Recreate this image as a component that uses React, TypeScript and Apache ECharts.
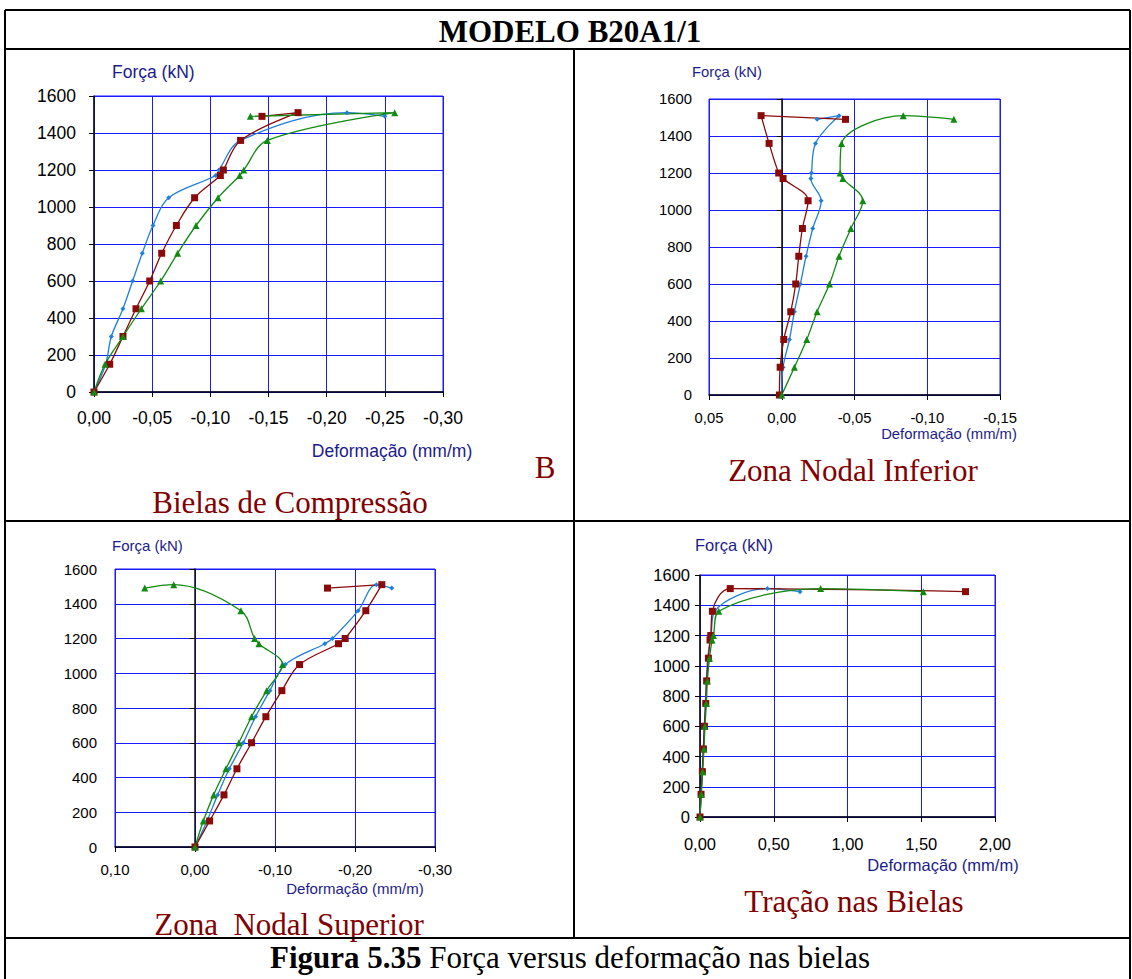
import React, { useEffect, useRef } from "react";
import * as echarts from "echarts";

// ---------- DATA ----------
const forceLevels = [0, 150, 300, 450, 600, 750, 900, 1050, 1170, 1200, 1360, 1510, 1490];
const seriesNames = ["Série 1", "Série 2", "Série 3"];

// Bielas de Compressão (deformação, mm/m)
const bielasBlue = [0, -0.010, -0.0149, -0.0249, -0.0332, -0.0415, -0.0507, -0.0642, -0.1046, -0.1074, -0.126, -0.2175, -0.250];
const bielasRed = [0, -0.0135, -0.0249, -0.0361, -0.0479, -0.0582, -0.0708, -0.0865, -0.1086, -0.1112, -0.126, -0.1754, -0.1444];
const bielasGreen = [0, -0.0095, -0.0249, -0.0407, -0.0573, -0.0719, -0.0877, -0.1066, -0.1252, -0.1287, -0.149, -0.2585, -0.1344];

// Zona Nodal Inferior
const inferiorRed = [0.0016, 0.0011, -0.0014, -0.0062, -0.0096, -0.0117, -0.0142, -0.0181, -0.0009, 0.0021, 0.0087, 0.0142, -0.0438];
const inferiorBlue = [0, -0.0009, -0.0053, -0.0087, -0.0128, -0.0167, -0.0213, -0.0271, -0.020, -0.0204, -0.0232, -0.0394, -0.0243];
const inferiorGreen = [0, -0.0087, -0.0172, -0.0243, -0.0328, -0.0394, -0.0475, -0.0557, -0.042, -0.0401, -0.0411, -0.0835, -0.1183];

// Zona Nodal Superior
const superiorRed = [0, -0.0183, -0.0362, -0.0524, -0.0707, -0.0886, -0.1086, -0.1307, -0.1794, -0.1877, -0.2135, -0.2335, -0.1656];
const superiorBlue = [0, -0.015, -0.0283, -0.0429, -0.0603, -0.0757, -0.0936, -0.1128, -0.1623, -0.1719, -0.2039, -0.2268, -0.2459];
const superiorGreen = [0, -0.0104, -0.0233, -0.0387, -0.0549, -0.0707, -0.0895, -0.1094, -0.0799, -0.0745, -0.0574, 0.0266, 0.0628];

// Tração nas Bielas
const tracaoBlue = [0, 0.007, 0.015, 0.022, 0.029, 0.036, 0.043, 0.052, 0.070, 0.075, 0.100, 0.457, 0.678];
const tracaoRed = [0, 0.007, 0.016, 0.023, 0.030, 0.039, 0.045, 0.057, 0.068, 0.073, 0.084, 0.205, 1.80];
const tracaoGreen = [0, 0.009, 0.018, 0.027, 0.034, 0.043, 0.050, 0.064, 0.082, 0.091, 0.127, 0.818, 1.514];

const xRanges = [
  { min: -0.3, max: 0, interval: 0.05, inverse: true },
  { min: -0.15, max: 0.05, interval: 0.05, inverse: true },
  { min: -0.3, max: 0.1, interval: 0.1, inverse: true },
  { min: 0, max: 2, interval: 0.5, inverse: false },
];
const yRange = { min: 0, max: 1600, interval: 200 };

const panelTitles = ["Bielas de Compressão", "Zona Nodal Inferior", "Zona  Nodal Superior", "Tração nas Bielas"];
const mainTitle = "MODELO B20A1/1";
const yName = "Força (kN)";
const xName = "Deformação (mm/m)";

// ---------- STYLE ----------
const RED = "#8a0a0a";
const BLUE = "#1f7fdc";
const GREEN = "#118a11";
const GRID = "#1a1aff";
const NAVY = "#1b1b8c";
const TITLE_RED = "#820000";
const SANS = "'Liberation Sans', Arial, sans-serif";
const SERIF = "'Liberation Serif', 'Times New Roman', serif";

const panels = [
  { grid: { left: 94, top: 96, width: 349, height: 296 }, font: 17.5, xMargin: 17, yMargin: 18,
    yNamePos: [112, 72], xNamePos: [392, 451], titlePos: [290, 502],
    data: [bielasBlue, bielasRed, bielasGreen], order: [0, 1, 2] },
  { grid: { left: 709, top: 99, width: 291, height: 296 }, font: 14.8, xMargin: 15, yMargin: 17,
    yNamePos: [692, 72], xNamePos: [949, 434], titlePos: [853, 470],
    data: [inferiorBlue, inferiorRed, inferiorGreen], order: [0, 1, 2] },
  { grid: { left: 115, top: 569, width: 320, height: 278 }, font: 15, xMargin: 15, yMargin: 18,
    yNamePos: [112, 545], xNamePos: [355, 888], titlePos: [289, 924],
    data: [superiorBlue, superiorRed, superiorGreen], order: [0, 1, 2] },
  { grid: { left: 700, top: 575, width: 295, height: 242 }, font: 16.5, xMargin: 18, yMargin: 10,
    yNamePos: [695, 545], xNamePos: [943, 865], titlePos: [854, 901],
    data: [tracaoBlue, tracaoRed, tracaoGreen], order: [0, 1, 2] },
];

const fmtX = (v: number) => {
  const x = Math.abs(v) < 1e-9 ? 0 : v;
  return x.toFixed(2).replace(".", ",");
};
const fmtY = (v: number) => String(Math.round(v));

const seriesStyles = [
  { color: BLUE, symbol: "diamond", size: 5 },
  { color: RED, symbol: "rect", size: 7 },
  { color: GREEN, symbol: "triangle", size: 7 },
];

function buildOption() {
  const grids: any[] = [];
  const xAxes: any[] = [];
  const yAxes: any[] = [];
  const series: any[] = [];
  const graphics: any[] = [];

  panels.forEach((p, i) => {
    grids.push({ ...p.grid, show: true, borderColor: GRID, borderWidth: 1, backgroundColor: "transparent", containLabel: false });
    const xr = xRanges[i];
    xAxes.push({
      gridIndex: i, type: "value", min: xr.min, max: xr.max, interval: xr.interval, inverse: xr.inverse,
      axisLine: { onZero: false, lineStyle: { color: "#000", width: 1.5 } },
      axisTick: { show: true, length: 5, lineStyle: { color: "#000" } },
      axisLabel: { formatter: fmtX, fontSize: p.font, color: "#000", margin: p.xMargin, fontFamily: SANS },
      splitLine: { show: true, lineStyle: { color: GRID, width: 1 } },
    });
    yAxes.push({
      gridIndex: i, type: "value", ...yRange, position: "left",
      axisLine: { show: false, onZero: false },
      axisTick: { show: false },
      axisLabel: { formatter: fmtY, fontSize: p.font, color: "#000", margin: p.yMargin, fontFamily: SANS },
      splitLine: { show: true, lineStyle: { color: GRID, width: 1 } },
    });
    yAxes.push({
      gridIndex: i, type: "value", ...yRange, position: "left",
      axisLine: { show: true, onZero: true, lineStyle: { color: "#111", width: 1.5 } },
      axisTick: { show: true, length: 5, lineStyle: { color: "#000" } },
      axisLabel: { show: false },
      splitLine: { show: false },
    });
    p.order.forEach((k) => {
      const st = seriesStyles[k];
      series.push({
        name: seriesNames[k], type: "line", xAxisIndex: i, yAxisIndex: 2 * i,
        data: p.data[k].map((d, j) => [d, forceLevels[j]]),
        smooth: 0.35, symbol: st.symbol, symbolSize: st.size,
        lineStyle: { color: st.color, width: 1.3 }, itemStyle: { color: st.color },
        z: 3,
      });
    });
    graphics.push({ type: "text", style: { text: yName, x: p.yNamePos[0], y: p.yNamePos[1], fontSize: p.font, fontFamily: SANS, fill: NAVY, textAlign: "left", verticalAlign: "middle" } });
    graphics.push({ type: "text", style: { text: xName, x: p.xNamePos[0], y: p.xNamePos[1], fontSize: p.font, fontFamily: SANS, fill: NAVY, textAlign: "center", verticalAlign: "middle" } });
    graphics.push({ type: "text", style: { text: panelTitles[i], x: p.titlePos[0], y: p.titlePos[1], fontSize: 31, fontFamily: SERIF, fill: TITLE_RED, textAlign: "center", verticalAlign: "middle" } });
  });

  // frame
  const L = 5, R = 1130;
  const lines = [
    [L, 10, R, 10], [L, 49, R, 49], [L, 521, R, 521], [L, 938, R, 938],
    [L, 10, L, 990], [R, 10, R, 990], [574, 49, 574, 938],
  ];
  lines.forEach(([x1, y1, x2, y2]) => graphics.push({ type: "line", shape: { x1, y1, x2, y2 }, style: { stroke: "#000", lineWidth: 2 } }));
  graphics.push({ type: "text", style: { text: mainTitle, x: 570, y: 31, fontSize: 31, fontWeight: "bold", fontFamily: SERIF, fill: "#000", textAlign: "center", verticalAlign: "middle" } });
  graphics.push({ type: "text", style: { text: "B", x: 545, y: 467, fontSize: 31, fontFamily: SERIF, fill: TITLE_RED, textAlign: "center", verticalAlign: "middle" } });
  graphics.push({
    type: "text",
    style: {
      text: "{b|Figura 5.35} Força versus deformação nas bielas", x: 570, y: 957,
      fontSize: 31, fontFamily: SERIF, fill: "#000", textAlign: "center", verticalAlign: "middle",
      rich: { b: { fontWeight: "bold", fontSize: 31, fontFamily: SERIF, fill: "#000" } },
    },
  });

  return {
    animation: false,
    backgroundColor: "#fff",
    grid: grids,
    xAxis: xAxes,
    yAxis: yAxes,
    series,
    graphic: graphics,
  };
}

export default function App() {
  const ref = useRef<HTMLDivElement>(null);
  useEffect(() => {
    if (!ref.current) return;
    const chart = echarts.init(ref.current, undefined, { renderer: "svg" });
    chart.setOption(buildOption() as any);
    return () => chart.dispose();
  }, []);
  return <div ref={ref} style={{ position: "absolute", left: 0, top: 0, width: 1132, height: 979 }} />;
}
